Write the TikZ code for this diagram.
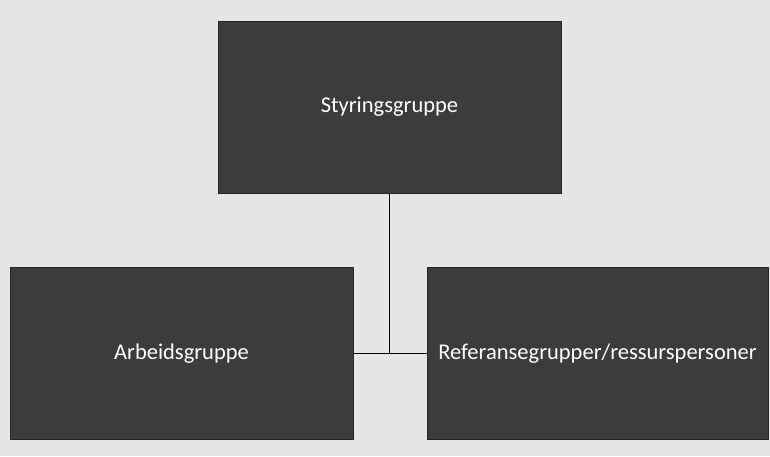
\documentclass[tikz,border=0pt]{standalone}
\usepackage{fontspec}
\setmainfont{Carlito}
\definecolor{paper}{HTML}{E6E6E6}
\definecolor{boxgray}{HTML}{3C3C3C}
\begin{document}
\begin{tikzpicture} [x=1pt, y=-1pt,
	group/.style={draw=black!85, line width=1pt, fill=boxgray, text=white,
		font=\fontsize{22.5}{27}\selectfont, inner sep=0pt,
		minimum width=343pt, minimum height=172pt}]
	\fill [paper] (0,0) rectangle (770,456);
	\useasboundingbox (0,0) rectangle (770,456);
	\node [group] (styring) at (389.5,107) {Styringsgruppe};
	\node [group] (arbeid) at (181.5,353.5) {Arbeidsgruppe};
	\node [group, minimum width=341pt] (referanse) at (597.5,353.5) {Referansegrupper/ressurspersoner};
	\draw [line width=1.4pt] (styring.south) -- (styring.south |- arbeid.east);
	\draw [line width=1.4pt] (arbeid.east) -- (referanse.west);
\end{tikzpicture}
\end{document}
